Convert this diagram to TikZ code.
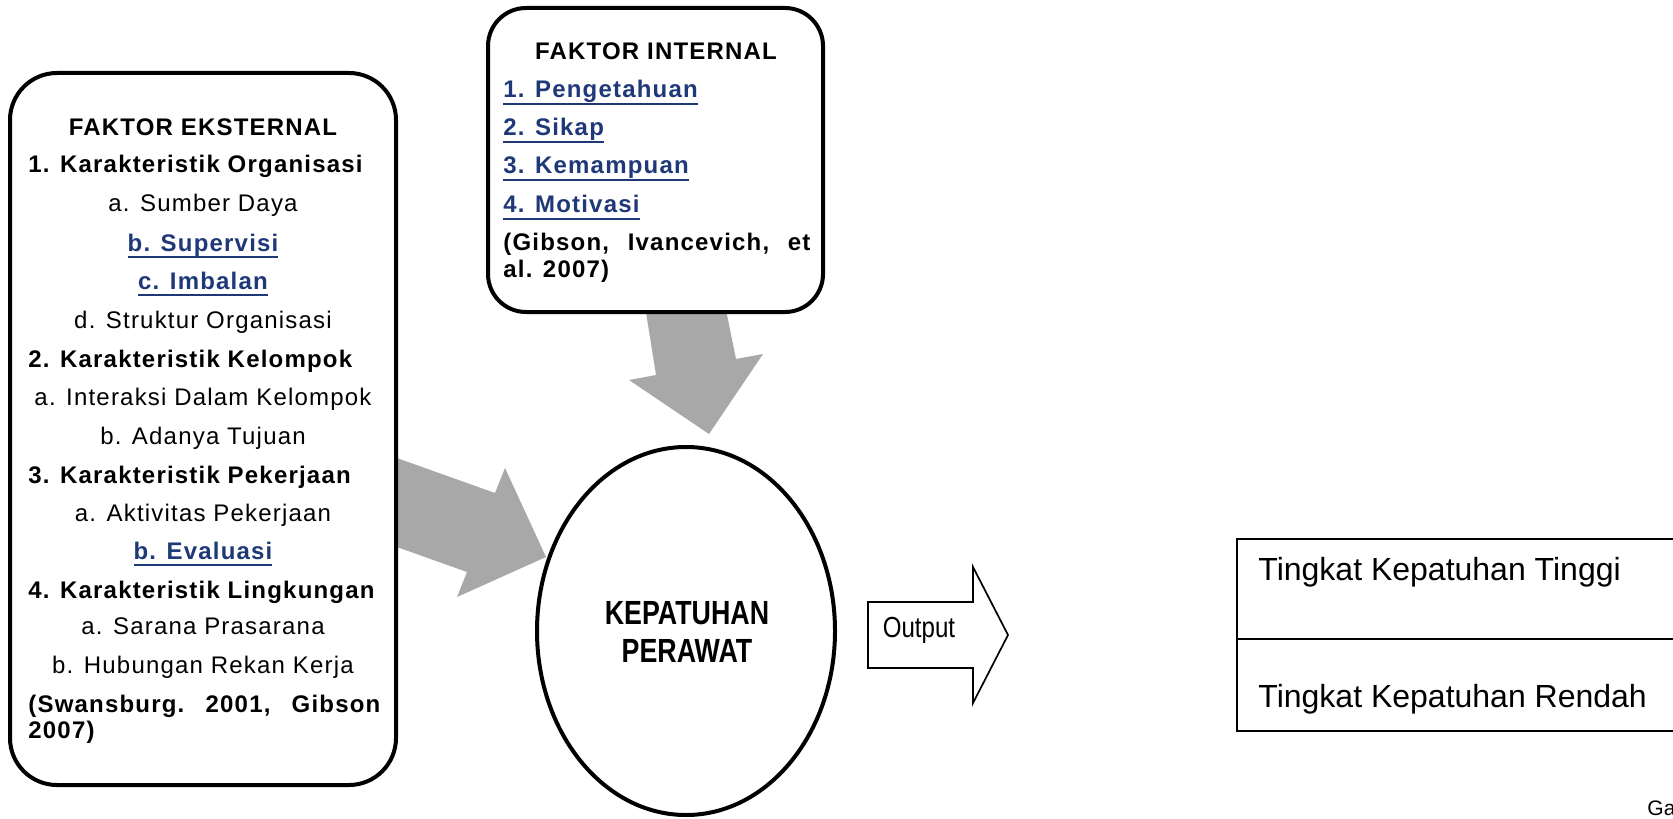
\documentclass[tikz,border=0pt]{standalone}
\usepackage{fontspec}
\setmainfont{Liberation Sans}
\newfontfamily\wordfont[LetterSpace=5]{Liberation Sans}
\usetikzlibrary{shapes.geometric}
\definecolor{linkblue}{RGB}{31,56,120}
\definecolor{arrowgray}{RGB}{168,168,168}
\newcommand\ulnk[1]{\setbox0\hbox{#1}\rlap{\rule[-3.3pt]{\wd0}{0.9pt}}\box0}
\begin{document}
\begin{tikzpicture}[x=0.5pt,y=-0.5pt,
  txt/.style={inner sep=0pt, font=\wordfont\fontsize{12}{14}\selectfont},
  bld/.style={inner sep=0pt, font=\wordfont\bfseries\fontsize{12}{14}\selectfont},
  lnk/.style={bld, text=linkblue},
  rbox/.style={draw, line width=2pt, fill=white},
  blockarrow/.style={fill=arrowgray},
  plain/.style={line width=0.85pt}]
\useasboundingbox (0,0) rectangle (1673,818);

% block arrows
\fill[blockarrow] (380,452) -- (495,493) -- (505,468) -- (546,557) -- (457,597) -- (467,572) -- (380,541) -- cycle;
\fill[blockarrow] (644,300) -- (724,300) -- (736,359) -- (763,354) -- (709,434) -- (629,380) -- (656,375) -- cycle;

% boxes
\node[rbox, rounded corners=23.5pt, minimum width=193pt, minimum height=356pt] (ext) at (203,429) {};
\node[rbox, rounded corners=19pt, minimum width=167.5pt, minimum height=152pt] (int) at (655.5,160) {};
\node[draw, ellipse, line width=2pt, minimum width=149pt, minimum height=184pt, inner sep=0pt] (kp) at (686,631) {};

% external factor text
\node[bld, anchor=base] (e0) at (203,136) {FAKTOR EKSTERNAL};
\node[bld, anchor=base west] (e1) at (28,173) {1. Karakteristik Organisasi};
\node[txt, anchor=base] (e1a) at (203,212) {a. Sumber Daya};
\node[lnk, anchor=base] (e1b) at (203,251) {\ulnk{b. Supervisi}};
\node[lnk, anchor=base] (e1c) at (203,289) {\ulnk{c. Imbalan}};
\node[txt, anchor=base] (e1d) at (203,328) {d. Struktur Organisasi};
\node[bld, anchor=base west] (e2) at (28,367) {2. Karakteristik Kelompok};
\node[txt, anchor=base] (e2a) at (203,405) {a. Interaksi Dalam Kelompok};
\node[txt, anchor=base] (e2b) at (203,444) {b. Adanya Tujuan};
\node[bld, anchor=base west] (e3) at (28,483) {3. Karakteristik Pekerjaan};
\node[txt, anchor=base] (e3a) at (203,521) {a. Aktivitas Pekerjaan};
\node[lnk, anchor=base] (e3b) at (203,559) {\ulnk{b. Evaluasi}};
\node[bld, anchor=base west] (e4) at (28,598) {4. Karakteristik Lingkungan};
\node[txt, anchor=base] (e4a) at (203,634) {a. Sarana Prasarana};
\node[txt, anchor=base] (e4b) at (203,673) {b. Hubungan Rekan Kerja};
\node[bld, anchor=base west] (e5) at (28,712) {\makebox[176pt][l]{(Swansburg.\hfill 2001,\hfill Gibson}};
\node[bld, anchor=base west] (e6) at (28,738) {2007)};

% internal factor text
\node[bld, anchor=base] (i0) at (656,60) {FAKTOR INTERNAL};
\node[lnk, anchor=base west] (i1) at (503,98) {\ulnk{1. Pengetahuan}};
\node[lnk, anchor=base west] (i2) at (503,136) {\ulnk{2. Sikap}};
\node[lnk, anchor=base west] (i3) at (503,174) {\ulnk{3. Kemampuan}};
\node[lnk, anchor=base west] (i4) at (503,213) {\ulnk{4. Motivasi}};
\node[bld, anchor=base west] (i5) at (503,250) {\makebox[153.5pt][l]{(Gibson,\hfill Ivancevich,\hfill et}};
\node[bld, anchor=base west] (i6) at (503,277) {al. 2007)};

% circle text
\node[inner sep=0pt, anchor=base, font=\bfseries\fontsize{16.75}{18}\selectfont] (kp1) at (687,624) {\scalebox{0.8}[1]{KEPATUHAN}};
\node[inner sep=0pt, anchor=base, font=\bfseries\fontsize{16.75}{18}\selectfont] (kp2) at (687,662) {\scalebox{0.8}[1]{PERAWAT}};

% output arrow
\draw[plain, line join=miter] (868,602) -- (973,602) -- (973,567) -- (1008,635) -- (973,703) -- (973,668) -- (868,668) -- cycle;
\node[inner sep=0pt, anchor=base, font=\fontsize{14.5}{16}\selectfont] (out) at (919,637) {\scalebox{0.83}[1]{Output}};

% result table
\draw[plain] (1673,539) -- (1237,539) -- (1237,731) -- (1673,731);
\draw[plain] (1237,639) -- (1673,639);
\node[inner sep=0pt, anchor=base west, font=\fontsize{16}{18}\selectfont] (hi) at (1258,580) {Tingkat Kepatuhan Tinggi};
\node[inner sep=0pt, anchor=base west, font=\fontsize{16}{18}\selectfont] (lo) at (1258,707) {Tingkat Kepatuhan Rendah};

\node[inner sep=0pt, anchor=base west, font=\fontsize{10.5}{12}\selectfont] (ga) at (1647,815) {Ga};
\end{tikzpicture}
\end{document}
